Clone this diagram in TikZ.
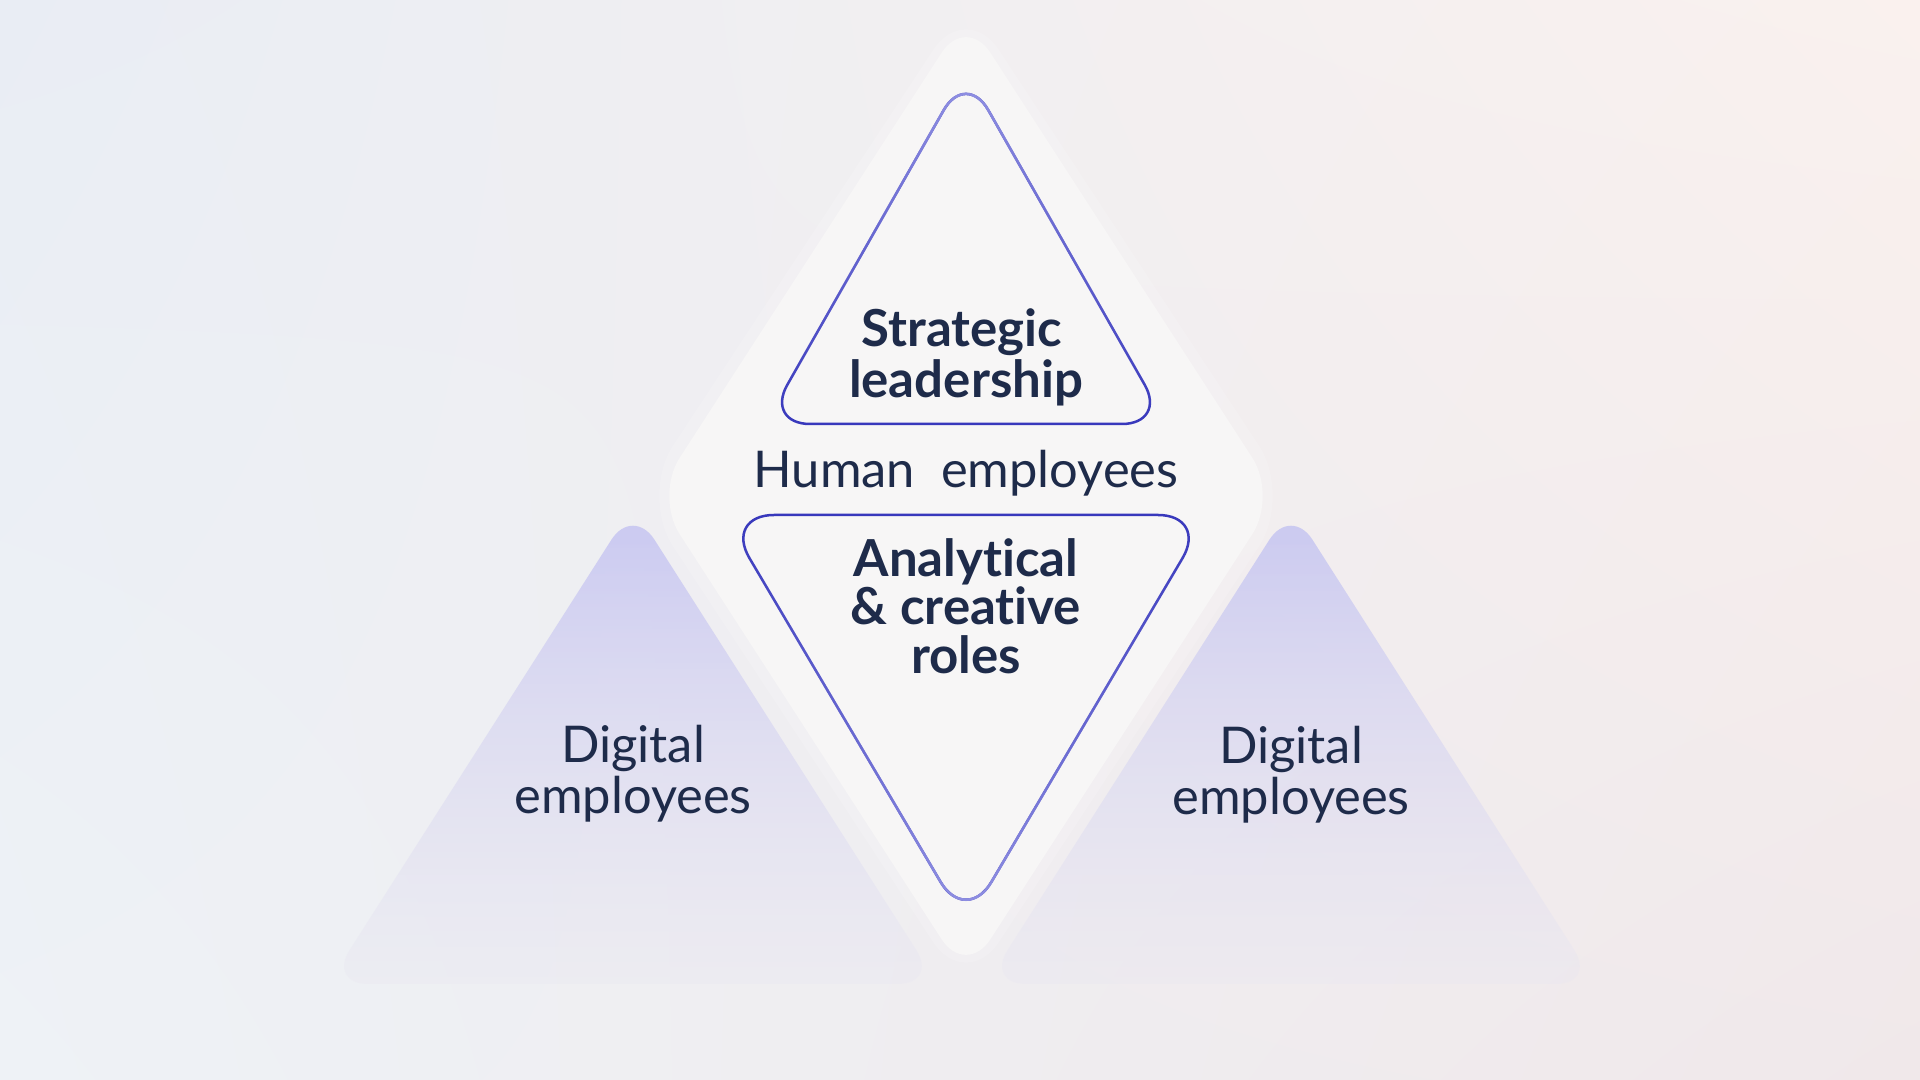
\documentclass[tikz,border=0pt]{standalone}
\usepackage{fontspec}
\setmainfont{Lato}[Ligatures=NoCommon]
\usetikzlibrary{fadings,shadings}
\definecolor{txt}{HTML}{1E2B4A}
\definecolor{bgUL}{HTML}{E9EDF4}
\definecolor{bgUR}{HTML}{FAF1EE}
\definecolor{bgLL}{HTML}{EEF2F6}
\definecolor{bgLR}{HTML}{F0E8EA}
\definecolor{dia}{HTML}{F7F6F6}
\definecolor{purTop}{HTML}{C9C8F1}
\definecolor{purBot}{HTML}{E9E7F1}
\definecolor{lineDark}{HTML}{3838BC}
\definecolor{lineLight}{HTML}{9494E4}
\tikzfading[name=fadeTop, top color=transparent!0, middle color=transparent!60, bottom color=transparent!100]
\tikzfading[name=fadeBot, top color=transparent!100, middle color=transparent!60, bottom color=transparent!0]
\tikzfading[name=purFade, top color=transparent!0, middle color=transparent!10, bottom color=transparent!65]
\tikzset{
  bold/.style={font=\fontsize{14.5}{16}\selectfont\bfseries, text=txt, anchor=base, inner sep=0pt},
  plain/.style={font=\fontsize{14.4}{16}\selectfont, text=txt, anchor=base, inner sep=0pt},
  outl/.style={line width=0.025cm, rounded corners=0.45cm, line join=round},
  purple/.style={top color=purTop, bottom color=purBot, rounded corners=0.4cm, path fading=purFade},
}
\begin{document}
\begin{tikzpicture}[x=0.01cm,y=-0.01cm]
\useasboundingbox (0,0) rectangle (1920,1080);
% background
\shade[upper left=bgUL, upper right=bgUR, lower left=bgLL, lower right=bgLR] (0,0) rectangle (1920,1080);
% purple triangles
\shade[purple] (633,506) -- (938,984) -- (328,984) -- cycle;
\shade[purple] (1291,506) -- (1596,984) -- (986,984) -- cycle;
% soft halo around diamond
\fill[white, opacity=0.15, rounded corners=0.6cm] (966,0) -- (1292,496) -- (966,992) -- (640,496) -- cycle;
% big diamond
\fill[dia, rounded corners=0.45cm] (966,15) -- (1277,496) -- (966,977) -- (655,496) -- cycle;
% upper triangle outline
\draw[outl, lineDark] (966,71) -- (1167,424) -- (765,424) -- cycle;
\draw[outl, lineLight, path fading=fadeTop] (966,71) -- (1167,424) -- (765,424) -- cycle;
% lower triangle outline
\draw[outl, lineDark, rounded corners=0.5cm] (724,515) -- (1208,515) -- (966,925) -- cycle;
\draw[outl, lineLight, rounded corners=0.5cm, path fading=fadeBot] (724,515) -- (1208,515) -- (966,925) -- cycle;
% texts
\node[bold] (s1) at (962,347) {Strategic};
\node[bold] (s2) at (966,398) {leadership};
\node[plain] (h) at (966,488) {Human\ \ employees};
\node[bold] (a1) at (966,577) {Analytical};
\node[bold] (a2) at (966,625) {\&~creative};
\node[bold] (a3) at (966,674) {roles};
\node[plain] (dl1) at (633,763) {Digital};
\node[plain] (dl2) at (633,814) {employees};
\node[plain] (dr1) at (1291,764) {Digital};
\node[plain] (dr2) at (1291,815) {employees};
\end{tikzpicture}
\end{document}
